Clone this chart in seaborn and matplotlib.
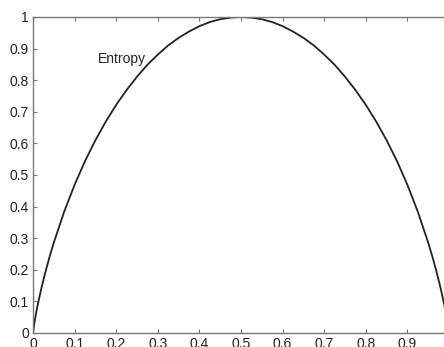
import matplotlib
matplotlib.use("Agg")
import matplotlib.pyplot as plt
import seaborn as sns
import pandas as pd

p = [0.0, 0.005, 0.01, 0.02, 0.03, 0.04, 0.05, 0.075, 0.1, 0.125, 0.15, 0.175, 0.2,
     0.225, 0.25, 0.275, 0.3, 0.325, 0.35, 0.375, 0.4, 0.425, 0.45, 0.475, 0.5,
     0.525, 0.55, 0.575, 0.6, 0.625, 0.65, 0.675, 0.7, 0.725, 0.75, 0.775, 0.8,
     0.825, 0.85, 0.875, 0.9, 0.925, 0.95, 0.96, 0.97, 0.98, 0.99, 0.995, 1.0]
entropy = [0.0, 0.045, 0.081, 0.141, 0.194, 0.242, 0.286, 0.384, 0.469, 0.544, 0.610, 0.669, 0.722,
           0.769, 0.811, 0.849, 0.881, 0.910, 0.934, 0.954, 0.971, 0.984, 0.993, 0.998, 1.0,
           0.998, 0.993, 0.984, 0.971, 0.954, 0.934, 0.910, 0.881, 0.849, 0.811, 0.769, 0.722,
           0.669, 0.610, 0.544, 0.469, 0.384, 0.286, 0.242, 0.194, 0.141, 0.081, 0.045, 0.0]
xticks = [0, 0.1, 0.2, 0.3, 0.4, 0.5, 0.6, 0.7, 0.8, 0.9, 1]
xticklabels = ["0", "0.1", "0.2", "0.3", "0.4", "0.5", "0.6", "0.7", "0.8", "0.9", "1"]
yticks = [0, 0.1, 0.2, 0.3, 0.4, 0.5, 0.6, 0.7, 0.8, 0.9, 1]
yticklabels = ["0", "0.1", "0.2", "0.3", "0.4", "0.5", "0.6", "0.7", "0.8", "0.9", "1"]

df = pd.DataFrame({"p": p, "entropy": entropy})

sns.set_style("white")
plt.rcParams["font.family"] = ["Liberation Sans", "DejaVu Sans"]

fig = plt.figure(figsize=(4.44, 3.47), dpi=100)
ax = fig.add_axes([33 / 444, (347 - 333) / 347, (449 - 33) / 444, (333 - 17) / 347])
sns.lineplot(data=df, x="p", y="entropy", ax=ax, color="#222222", linewidth=1.3)
ax.set_xlim(0, 1)
ax.set_ylim(0, 1)
ax.set_xticks(xticks)
ax.set_xticklabels(xticklabels)
ax.set_yticks(yticks)
ax.set_yticklabels(yticklabels)
ax.set_xlabel("")
ax.set_ylabel("")
for s in ax.spines.values():
    s.set_color("#777777")
    s.set_linewidth(1.0)
ax.tick_params(direction="in", length=3, width=0.8, color="#777777",
               labelsize=10, labelcolor="#222222", top=True, right=False,
               bottom=True, left=True, pad=3)
ax.text(0.155, 0.867, "Entropy", fontsize=10, color="#222222", ha="left", va="center")
fig.savefig("out.png", dpi=100)
